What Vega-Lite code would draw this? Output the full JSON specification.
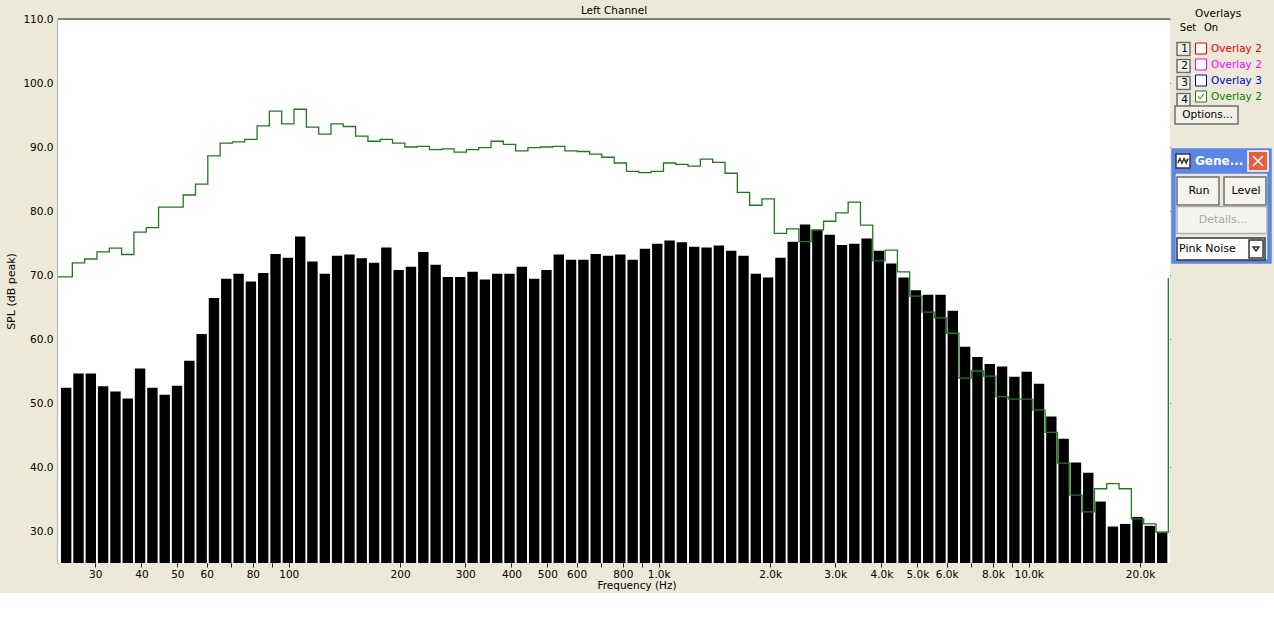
{
  "$schema": "https://vega.github.io/schema/vega-lite/v6.json",
  "width": 1112,
  "height": 544,
  "autosize": {"type": "none"},
  "padding": {"left": 58, "top": 19, "right": 104, "bottom": 30},
  "background": "#ece9d8",
  "config": {"view": {"fill": "white", "stroke": null}, "font": "DejaVu Sans"},
  "title": {"text": "Left Channel", "fontSize": 10.5, "fontWeight": "normal", "color": "black", "anchor": "middle", "offset": 4, "dy": 11},
  "resolve": {"scale": {"color": "independent"}, "legend": {"color": "independent"}},
  "datasets": {
    "bands": [
      {"freq": 25.03, "spl": 52.4}, {"freq": 27.03, "spl": 54.6}, {"freq": 29.18, "spl": 54.6}, {"freq": 31.5, "spl": 52.6},
      {"freq": 34.02, "spl": 51.8}, {"freq": 36.72, "spl": 50.7}, {"freq": 39.65, "spl": 55.4}, {"freq": 42.81, "spl": 52.4},
      {"freq": 46.22, "spl": 51.3}, {"freq": 49.9, "spl": 52.7}, {"freq": 53.87, "spl": 56.6}, {"freq": 58.16, "spl": 60.8},
      {"freq": 62.8, "spl": 66.4}, {"freq": 67.8, "spl": 69.4}, {"freq": 73.2, "spl": 70.2}, {"freq": 79.03, "spl": 69.0},
      {"freq": 85.32, "spl": 70.3}, {"freq": 92.12, "spl": 73.3}, {"freq": 99.46, "spl": 72.7}, {"freq": 107.4, "spl": 76.0},
      {"freq": 115.9, "spl": 72.1}, {"freq": 125.2, "spl": 70.2}, {"freq": 135.1, "spl": 73.0}, {"freq": 145.9, "spl": 73.2},
      {"freq": 157.5, "spl": 72.6}, {"freq": 170.1, "spl": 71.9}, {"freq": 183.6, "spl": 74.3}, {"freq": 198.2, "spl": 70.8},
      {"freq": 214.0, "spl": 71.3}, {"freq": 231.1, "spl": 73.6}, {"freq": 249.5, "spl": 71.6}, {"freq": 269.3, "spl": 69.7},
      {"freq": 290.8, "spl": 69.7}, {"freq": 314.0, "spl": 70.5}, {"freq": 339.0, "spl": 69.3}, {"freq": 366.0, "spl": 70.2},
      {"freq": 395.1, "spl": 70.2}, {"freq": 426.6, "spl": 71.3}, {"freq": 460.6, "spl": 69.4}, {"freq": 497.3, "spl": 70.8},
      {"freq": 536.9, "spl": 73.2}, {"freq": 579.6, "spl": 72.4}, {"freq": 625.8, "spl": 72.4}, {"freq": 675.6, "spl": 73.3},
      {"freq": 729.4, "spl": 73.0}, {"freq": 787.5, "spl": 73.2}, {"freq": 850.3, "spl": 72.4}, {"freq": 918.0, "spl": 74.1},
      {"freq": 991.1, "spl": 74.9}, {"freq": 1070, "spl": 75.4}, {"freq": 1155, "spl": 75.1}, {"freq": 1247, "spl": 74.4},
      {"freq": 1347, "spl": 74.3}, {"freq": 1454, "spl": 74.6}, {"freq": 1570, "spl": 73.8}, {"freq": 1695, "spl": 73.0},
      {"freq": 1830, "spl": 70.2}, {"freq": 1975, "spl": 69.6}, {"freq": 2133, "spl": 72.7}, {"freq": 2303, "spl": 75.2},
      {"freq": 2486, "spl": 77.9}, {"freq": 2684, "spl": 77.1}, {"freq": 2898, "spl": 76.3}, {"freq": 3129, "spl": 74.7},
      {"freq": 3378, "spl": 74.9}, {"freq": 3647, "spl": 75.7}, {"freq": 3937, "spl": 73.8}, {"freq": 4251, "spl": 71.8},
      {"freq": 4590, "spl": 69.6}, {"freq": 4955, "spl": 67.6}, {"freq": 5350, "spl": 66.9}, {"freq": 5776, "spl": 66.9},
      {"freq": 6236, "spl": 64.4}, {"freq": 6733, "spl": 58.8}, {"freq": 7269, "spl": 57.2}, {"freq": 7848, "spl": 56.1},
      {"freq": 8473, "spl": 55.7}, {"freq": 9148, "spl": 54.1}, {"freq": 9877, "spl": 54.9}, {"freq": 10663, "spl": 53.0},
      {"freq": 11513, "spl": 47.9}, {"freq": 12430, "spl": 44.4}, {"freq": 13419, "spl": 40.7}, {"freq": 14488, "spl": 39.1},
      {"freq": 15642, "spl": 34.6}, {"freq": 16888, "spl": 30.7}, {"freq": 18233, "spl": 31.1}, {"freq": 19686, "spl": 32.2},
      {"freq": 21254, "spl": 30.8}, {"freq": 22947, "spl": 29.9}
    ],
    "overlay": [
      {"freq": 23.8, "spl": 69.7}, {"freq": 26.01, "spl": 71.9}, {"freq": 28.08, "spl": 72.5}, {"freq": 30.32, "spl": 73.6},
      {"freq": 32.74, "spl": 74.2}, {"freq": 35.34, "spl": 73.2}, {"freq": 38.16, "spl": 76.7}, {"freq": 41.2, "spl": 77.4},
      {"freq": 44.48, "spl": 80.6}, {"freq": 48.02, "spl": 80.6}, {"freq": 51.85, "spl": 82.5}, {"freq": 55.98, "spl": 84.2},
      {"freq": 60.44, "spl": 88.6}, {"freq": 65.25, "spl": 90.6}, {"freq": 70.45, "spl": 90.8}, {"freq": 76.06, "spl": 91.2},
      {"freq": 82.11, "spl": 93.3}, {"freq": 88.65, "spl": 95.6}, {"freq": 95.72, "spl": 93.6}, {"freq": 103.3, "spl": 95.9},
      {"freq": 111.6, "spl": 93.1}, {"freq": 120.5, "spl": 92.0}, {"freq": 130.1, "spl": 93.6}, {"freq": 140.4, "spl": 93.2},
      {"freq": 151.6, "spl": 91.7}, {"freq": 163.7, "spl": 90.9}, {"freq": 176.7, "spl": 91.2}, {"freq": 190.8, "spl": 90.6},
      {"freq": 206.0, "spl": 90.0}, {"freq": 222.4, "spl": 90.1}, {"freq": 240.1, "spl": 89.6}, {"freq": 259.2, "spl": 89.7},
      {"freq": 279.9, "spl": 89.2}, {"freq": 302.2, "spl": 89.6}, {"freq": 326.2, "spl": 89.9}, {"freq": 352.2, "spl": 90.9},
      {"freq": 380.3, "spl": 90.4}, {"freq": 410.5, "spl": 89.4}, {"freq": 443.2, "spl": 89.9}, {"freq": 478.6, "spl": 90.0},
      {"freq": 516.7, "spl": 90.1}, {"freq": 557.8, "spl": 89.4}, {"freq": 602.3, "spl": 89.3}, {"freq": 650.2, "spl": 88.9},
      {"freq": 702.0, "spl": 88.4}, {"freq": 757.9, "spl": 87.5}, {"freq": 818.3, "spl": 86.2}, {"freq": 883.5, "spl": 86.0},
      {"freq": 953.8, "spl": 86.2}, {"freq": 1030, "spl": 87.5}, {"freq": 1112, "spl": 87.3}, {"freq": 1200, "spl": 87.0},
      {"freq": 1296, "spl": 88.1}, {"freq": 1399, "spl": 87.6}, {"freq": 1511, "spl": 85.9}, {"freq": 1631, "spl": 82.9},
      {"freq": 1761, "spl": 80.9}, {"freq": 1901, "spl": 81.9}, {"freq": 2053, "spl": 76.5}, {"freq": 2216, "spl": 77.2},
      {"freq": 2393, "spl": 75.2}, {"freq": 2583, "spl": 77.0}, {"freq": 2789, "spl": 78.4}, {"freq": 3011, "spl": 79.7},
      {"freq": 3251, "spl": 81.4}, {"freq": 3510, "spl": 77.8}, {"freq": 3789, "spl": 72.2}, {"freq": 4091, "spl": 73.9},
      {"freq": 4417, "spl": 70.5}, {"freq": 4769, "spl": 66.7}, {"freq": 5149, "spl": 64.2}, {"freq": 5559, "spl": 63.3},
      {"freq": 6002, "spl": 60.9}, {"freq": 6480, "spl": 53.9}, {"freq": 6996, "spl": 55.0}, {"freq": 7553, "spl": 54.2},
      {"freq": 8154, "spl": 51.0}, {"freq": 8804, "spl": 50.6}, {"freq": 9505, "spl": 50.6}, {"freq": 10262, "spl": 48.9},
      {"freq": 11080, "spl": 45.4}, {"freq": 11962, "spl": 40.6}, {"freq": 12915, "spl": 35.6}, {"freq": 13944, "spl": 33.0},
      {"freq": 15054, "spl": 36.6}, {"freq": 16253, "spl": 37.4}, {"freq": 17547, "spl": 36.6}, {"freq": 18946, "spl": 31.9},
      {"freq": 20454, "spl": 31.1}, {"freq": 22084, "spl": 29.8}, {"freq": 23843, "spl": 69.5}
    ]
  },
  "layer": [
    {
      "data": {"values": [{}]},
      "mark": {"type": "rect", "color": "white"},
      "encoding": {"x": {"datum": 23.79}, "x2": {"datum": 24094}, "y": {"datum": 25}, "y2": {"datum": 110}}
    },
    {
      "data": {"name": "bands"},
      "mark": {"type": "bar", "width": 10.4, "color": "black", "clip": true},
      "encoding": {
        "x": {
          "field": "freq", "type": "quantitative",
          "scale": {"type": "log", "domain": [23.79, 24094], "nice": false, "padding": 0},
          "axis": {
            "values": [30, 40, 50, 60, 70, 80, 90, 100, 200, 300, 400, 500, 600, 700, 800, 900, 1000, 2000, 3000, 4000, 5000, 6000, 7000, 8000, 9000, 10000, 20000],
            "labelExpr": "indexof([70, 90, 700, 900, 7000, 9000], datum.value) >= 0 ? '' : (datum.value >= 1000 ? format(datum.value / 1000, '.1f') + 'k' : format(datum.value, 'd'))",
            "grid": true, "gridColor": "black", "gridOpacity": 1, "gridWidth": 1,
            "domain": false, "ticks": true, "tickSize": 4, "tickColor": "#222222", "tickWidth": 1,
            "labelFontSize": 10.5, "labelColor": "black", "labelPadding": 2, "labelFlush": false, "labelOverlap": false,
            "title": "Frequency (Hz)", "titleFontSize": 10.5, "titleFontWeight": "normal", "titleColor": "black",
            "titleX": 578.5, "titlePadding": 1
          }
        },
        "y": {
          "field": "spl", "type": "quantitative",
          "scale": {"domain": [25, 110], "nice": false, "zero": false},
          "axis": {
            "values": [30, 40, 50, 60, 70, 80, 90, 100, 110], "format": ".1f",
            "grid": true, "gridColor": "black", "gridOpacity": 1, "gridWidth": 1,
            "domain": true, "domainColor": "#808080", "domainWidth": 2, "ticks": false,
            "labelPadding": 5, "labelFontSize": 10.5, "labelColor": "black",
            "title": "SPL (dB peak)", "titleFontSize": 11, "titleFontWeight": "normal", "titleColor": "black", "titlePadding": 6
          }
        },
        "y2": {"datum": 25}
      }
    },
    {
      "data": {"name": "overlay"},
      "mark": {"type": "line", "interpolate": "step-after", "strokeWidth": 1.3, "clip": true},
      "encoding": {
        "x": {"field": "freq", "type": "quantitative"},
        "y": {"field": "spl", "type": "quantitative"},
        "color": {
          "datum": "4", "type": "nominal",
          "scale": {"domain": ["1", "2", "3", "4"], "range": ["#e00000", "#ff00ff", "#0000d0", "#1f7a1f"]},
          "legend": {
            "orient": "none", "legendX": 1137, "legendY": -10,
            "title": "Overlays", "titleFontSize": 10.5, "titleFontWeight": "normal", "titleColor": "black", "titlePadding": 23,
            "labelExpr": "datum.value == '3' ? 'Overlay 3' : 'Overlay 2'",
            "labelFontSize": 10.5, "labelOffset": 4, "symbolSize": 121, "rowPadding": 0,
            "encode": {
              "labels": {"update": {"fill": {"signal": "datum.value == '1' ? '#e00000' : datum.value == '2' ? '#ff00ff' : datum.value == '3' ? '#0000d0' : '#008000'"}}},
              "symbols": {"update": {
                "shape": {"signal": "datum.value == '4' ? 'M-1,-1H1V1H-1Z M-0.55,-0.05L-0.15,0.45L0.55,-0.5' : 'M-1,-1H1V1H-1Z'"},
                "fill": {"value": "white"}, "stroke": {"value": "#707070"}, "strokeWidth": {"value": 1}, "opacity": {"value": 1}
              }}
            }
          }
        }
      }
    },
    {
      "data": {"values": [{}]},
      "mark": {"type": "point", "opacity": 0, "filled": true, "stroke": "#6f6f6f", "strokeWidth": 1},
      "encoding": {
        "color": {
          "datum": "1", "type": "nominal",
          "scale": {"domain": ["1", "2", "3", "4"], "range": ["#f1efe6", "#f1efe6", "#f1efe6", "#f1efe6"]},
          "legend": {
            "orient": "none", "legendX": 1118, "legendY": 22.5, "title": null,
            "labelFontSize": 10.5, "labelColor": "black", "labelAlign": "center", "labelOffset": -6.5,
            "symbolSize": 169, "symbolType": "square", "rowPadding": -3,
            "encode": {"symbols": {"update": {
              "shape": {"value": "square"}, "fill": {"value": "#f1efe6"}, "stroke": {"value": "#6f6f6f"}, "strokeWidth": {"value": 1}, "opacity": {"value": 1}
            }}}
          }
        }
      }
    },
    {
      "data": {"values": [{}]},
      "mark": {"type": "point", "opacity": 0, "filled": true, "stroke": "#6f6f6f", "strokeWidth": 1},
      "encoding": {
        "color": {
          "datum": "Options...", "type": "nominal",
          "scale": {"domain": ["Options..."], "range": ["#f1efe6"]},
          "legend": {
            "orient": "none", "legendX": 1116, "legendY": 88, "title": null,
            "labelFontSize": 10.5, "labelColor": "black", "labelAlign": "center", "labelOffset": 17.5,
            "symbolSize": 196, "symbolType": "M-1,-1.29H8V1.29H-1Z",
            "encode": {"symbols": {"update": {
              "shape": {"value": "M-1,-1.29H8V1.29H-1Z"}, "fill": {"value": "#f1efe6"}, "stroke": {"value": "#6f6f6f"}, "strokeWidth": {"value": 1}, "opacity": {"value": 1}
            }}}
          }
        }
      }
    },
    {
      "data": {"values": [{}]},
      "mark": {"type": "point", "opacity": 0, "filled": true, "stroke": "transparent", "strokeWidth": 0},
      "encoding": {
        "color": {
          "datum": "Set", "type": "nominal",
          "scale": {"domain": ["Set", "On"], "range": ["transparent", "transparent"]},
          "legend": {
            "orient": "none", "legendX": 1116, "legendY": 4, "title": null, "direction": "horizontal",
            "labelFontSize": 10, "labelColor": "black", "labelAlign": "center", "labelOffset": 4, "columnPadding": 0,
            "symbolSize": 1,
            "encode": {
              "labels": {"update": {"angle": {"value": -90}}},
              "symbols": {"update": {"opacity": {"value": 0}}}
            }
          }
        }
      }
    },
    {
      "data": {"values": [{}]},
      "mark": {"type": "point", "opacity": 0, "filled": true, "stroke": "#5b86e5", "strokeWidth": 0},
      "encoding": {
        "color": {
          "datum": "Gene...", "type": "nominal",
          "scale": {"domain": ["Gene..."], "range": ["#5b86e5"]},
          "legend": {
            "orient": "none", "legendX": 1112, "legendY": 131, "title": null,
            "labelFontSize": 12, "labelFontWeight": "bold", "labelColor": "white", "labelAlign": "left", "labelOffset": 3,
            "symbolSize": 400, "symbolType": "M-0.9,-1.2H9V10.2H-0.9Z M-0.6,1.2V9.9H8.7V1.2Z",
            "encode": {"symbols": {"update": {
              "shape": {"value": "M-0.9,-1.2H9V10.2H-0.9Z M-0.6,1.2V9.9H8.7V1.2Z"}, "fill": {"value": "#5b86e5"}, "strokeWidth": {"value": 0}, "opacity": {"value": 1}
            }}}
          }
        }
      }
    },
    {
      "data": {"values": [{}]},
      "mark": {"type": "point", "opacity": 0, "filled": true, "stroke": "#3a3a3a", "strokeWidth": 1},
      "encoding": {
        "color": {
          "datum": "icon", "type": "nominal",
          "scale": {"domain": ["icon"], "range": ["white"]},
          "legend": {
            "orient": "none", "legendX": 1117, "legendY": 134, "title": null,
            "labelExpr": "''", "symbolSize": 196, "symbolType": "M-1,-1H1V1H-1Z M-0.75,0.3L-0.45,-0.35L-0.15,0.3L0.15,-0.35L0.45,0.3L0.75,-0.35",
            "encode": {"symbols": {"update": {
              "shape": {"value": "M-1,-1H1V1H-1Z M-0.75,0.3L-0.45,-0.35L-0.15,0.3L0.15,-0.35L0.45,0.3L0.75,-0.35"}, "fill": {"value": "white"}, "stroke": {"value": "#3a3a3a"}, "strokeWidth": {"value": 1}, "opacity": {"value": 1}
            }}}
          }
        }
      }
    },
    {
      "data": {"values": [{}]},
      "mark": {"type": "point", "opacity": 0, "filled": true, "stroke": "white", "strokeWidth": 1.5},
      "encoding": {
        "color": {
          "datum": "close", "type": "nominal",
          "scale": {"domain": ["close"], "range": ["#e0603f"]},
          "legend": {
            "orient": "none", "legendX": 1189, "legendY": 131, "title": null,
            "labelExpr": "''", "symbolSize": 400, "symbolType": "M-1,-1H1V1H-1Z M-0.5,-0.5L0.5,0.5 M0.5,-0.5L-0.5,0.5",
            "encode": {"symbols": {"update": {
              "shape": {"value": "M-1,-1H1V1H-1Z M-0.5,-0.5L0.5,0.5 M0.5,-0.5L-0.5,0.5"}, "fill": {"value": "#e0603f"}, "stroke": {"value": "white"}, "strokeWidth": {"value": 1.5}, "opacity": {"value": 1}
            }}}
          }
        }
      }
    },
    {
      "data": {"values": [{}]},
      "mark": {"type": "point", "opacity": 0, "filled": true, "stroke": "#6f6f6f", "strokeWidth": 1},
      "encoding": {
        "color": {
          "datum": "Run", "type": "nominal",
          "scale": {"domain": ["Run", "Level"], "range": ["#f4f3ee", "#f4f3ee"]},
          "legend": {
            "orient": "none", "legendX": 1118, "legendY": 164, "title": null, "direction": "horizontal",
            "labelFontSize": 11, "labelColor": "black", "labelAlign": "center", "labelOffset": 7, "columnPadding": -1,
            "symbolSize": 196, "symbolType": "M-1,-2H5V2H-1Z",
            "encode": {"symbols": {"update": {
              "shape": {"value": "M-1,-2H5V2H-1Z"}, "fill": {"value": "#f4f3ee"}, "stroke": {"value": "#6f6f6f"}, "strokeWidth": {"value": 1}, "opacity": {"value": 1}
            }}}
          }
        }
      }
    },
    {
      "data": {"values": [{}]},
      "mark": {"type": "point", "opacity": 0, "filled": true, "stroke": "#b0b0b0", "strokeWidth": 1},
      "encoding": {
        "color": {
          "datum": "Details...", "type": "nominal",
          "scale": {"domain": ["Details..."], "range": ["#f4f3ee"]},
          "legend": {
            "orient": "none", "legendX": 1118, "legendY": 193, "title": null,
            "labelFontSize": 11, "labelColor": "#a8a8a8", "labelAlign": "center", "labelOffset": 31,
            "symbolSize": 196, "symbolType": "M-1,-1.93H11.86V1.93H-1Z",
            "encode": {"symbols": {"update": {
              "shape": {"value": "M-1,-1.93H11.86V1.93H-1Z"}, "fill": {"value": "#f4f3ee"}, "stroke": {"value": "#b0b0b0"}, "strokeWidth": {"value": 1}, "opacity": {"value": 1}
            }}}
          }
        }
      }
    },
    {
      "data": {"values": [{}]},
      "mark": {"type": "point", "opacity": 0, "filled": true, "stroke": "#333333", "strokeWidth": 1},
      "encoding": {
        "color": {
          "datum": "Pink Noise", "type": "nominal",
          "scale": {"domain": ["Pink Noise"], "range": ["white"]},
          "legend": {
            "orient": "none", "legendX": 1118, "legendY": 222, "title": null,
            "labelFontSize": 11, "labelColor": "black", "labelAlign": "left", "labelOffset": -13,
            "symbolSize": 196, "symbolType": "M-1,-1.57H11.57V1.57H-1Z M9.29,-1.29H11.29V1.29H9.29Z M9.86,-0.29H10.71L10.29,0.29Z",
            "encode": {"symbols": {"update": {
              "shape": {"value": "M-1,-1.57H11.57V1.57H-1Z M9.29,-1.29H11.29V1.29H9.29Z M9.86,-0.29H10.71L10.29,0.29Z"}, "fill": {"value": "white"}, "stroke": {"value": "#333333"}, "strokeWidth": {"value": 1}, "opacity": {"value": 1}
            }}}
          }
        }
      }
    },
    {
      "data": {"values": [{}]},
      "mark": {"type": "rule", "color": "#808080", "strokeWidth": 2},
      "encoding": {"y": {"datum": 110}}
    }
  ]
}
